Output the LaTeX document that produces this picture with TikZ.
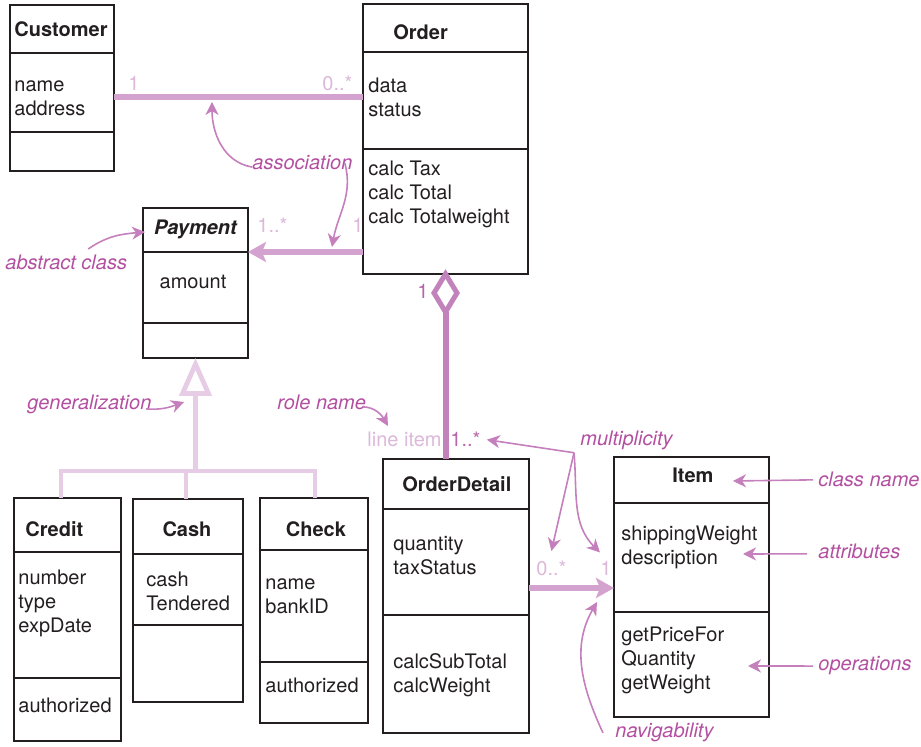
\documentclass[tikz,border=0pt]{standalone}
\usepackage{fontspec}
\setmainfont{TeX Gyre Heros}
\usepackage[usenames]{xcolor}
\usepackage{tikz}
\usetikzlibrary{positioning}
\usetikzlibrary{arrows.meta}
\usetikzlibrary{shapes.geometric}
\definecolor{boxline}{HTML}{231F20}
\definecolor{notetext}{HTML}{B34FA0}
\definecolor{notearrow}{HTML}{C47FBC}
\definecolor{assocline}{HTML}{D3A2CF}
\definecolor{aggline}{HTML}{C282BB}
\definecolor{genline}{HTML}{E6CDE5}
\definecolor{multlight}{HTML}{DCB8D9}
\definecolor{multdark}{HTML}{B866AC}
\tikzset{my_diagram/.style={x=0.5pt,y=0.5pt,font=\fontsize{10}{12}\selectfont}}
\tikzset{my_box/.style={draw=boxline,line width=0.8pt,inner sep=0pt,outer sep=0pt}}
\tikzset{my_title/.style={anchor=base west,inner sep=0pt,text=boxline,font=\fontsize{10}{12}\selectfont\bfseries}}
\tikzset{my_text/.style={anchor=base west,inner sep=0pt,text=boxline}}
\tikzset{my_note/.style={anchor=base west,inner sep=0pt,text=notetext,font=\fontsize{10}{12}\selectfont\itshape}}
\tikzset{my_mult/.style={anchor=base west,inner sep=0pt,text=multlight}}
\tikzset{my_pointer/.style={draw=notearrow,line width=0.8pt,-{Stealth[length=6.5pt,width=6.5pt,inset=2pt]}}}
\tikzset{my_assoc/.style={draw=assocline,line width=3pt}}
\tikzset{my_navigable/.style={my_assoc,line width=3.2pt,-{Stealth[length=9pt,width=10pt,inset=2pt]}}}
\tikzset{my_general/.style={draw=genline,line width=2.4pt}}
\tikzset{my_aggregate/.style={diamond,draw=aggline,fill=white,line width=2.5pt,inner sep=0pt,outer sep=0pt,minimum width=11.5pt,minimum height=19pt}}

\begin{document}
\begin{tikzpicture}[my_diagram]
    \useasboundingbox (0,0) rectangle (921,-747);
    %\draw[help lines,step=50] (0,0) grid (921,-747);

    % classes
    \node[my_box,anchor=north west,minimum width=52pt,minimum height=24pt] (custT) at (10,-5) {};
    \node[my_box,below=0pt of custT,minimum width=52pt,minimum height=39.5pt] (custA) {};
    \node[my_box,below=0pt of custA,minimum width=52pt,minimum height=19.5pt] (custO) {};
    \node[my_title] (custName) at (14,-37) {Customer};
    \node[my_text] (custAttr) at (14,-92) {\parbox[t]{40mm}{name\\address}};

    \node[my_box,anchor=north west,minimum width=82.5pt,minimum height=24pt] (ordT) at (363,-4) {};
    \node[my_box,below=0pt of ordT,minimum width=82.5pt,minimum height=48.5pt] (ordA) {};
    \node[my_box,below=0pt of ordA,minimum width=82.5pt,minimum height=62.5pt] (ordO) {};
    \node[my_title] (ordName) at (393,-40) {Order};
    \node[my_text] (ordAttr) at (368,-93) {\parbox[t]{40mm}{data\\status}};
    \node[my_text] (ordOps) at (368,-176) {\parbox[t]{40mm}{calc Tax\\calc Total\\calc Totalweight}};

    \node[my_box,anchor=north west,minimum width=52.5pt,minimum height=22pt] (payT) at (143,-208) {};
    \node[my_box,below=0pt of payT,minimum width=52.5pt,minimum height=35.5pt] (payA) {};
    \node[my_box,below=0pt of payA,minimum width=52.5pt,minimum height=17.5pt] (payO) {};
    \node[my_title,anchor=base,font=\fontsize{10}{12}\selectfont\bfseries\itshape] (payName) at (195.5,-235) {Payment};
    \node[my_text,anchor=base] (payAttr) at (193,-289) {amount};

    \node[my_box,anchor=north west,minimum width=53.5pt,minimum height=27pt] (credT) at (14,-498) {};
    \node[my_box,below=0pt of credT,minimum width=53.5pt,minimum height=63pt] (credA) {};
    \node[my_box,below=0pt of credA,minimum width=53.5pt,minimum height=31.5pt] (credO) {};
    \node[my_title] (credName) at (25,-537) {Credit};
    \node[my_text] (credAttr) at (18,-585) {\parbox[t]{40mm}{number\\type\\expDate}};
    \node[my_text] (credOps) at (18,-713) {authorized};

    \node[my_box,anchor=north west,minimum width=55pt,minimum height=27.5pt] (cashT) at (133,-499) {};
    \node[my_box,below=0pt of cashT,minimum width=55pt,minimum height=35.5pt] (cashA) {};
    \node[my_box,below=0pt of cashA,minimum width=55pt,minimum height=38.5pt] (cashO) {};
    \node[my_title,anchor=base] (cashName) at (187,-537) {Cash};
    \node[my_text] (cashAttr) at (146,-587) {\parbox[t]{40mm}{cash\\Tendered}};

    \node[my_box,anchor=north west,minimum width=54pt,minimum height=26pt] (chkT) at (260,-498) {};
    \node[my_box,below=0pt of chkT,minimum width=54pt,minimum height=56pt] (chkA) {};
    \node[my_box,below=0pt of chkA,minimum width=54pt,minimum height=30.5pt] (chkO) {};
    \node[my_title,anchor=base] (chkName) at (316,-537) {Check};
    \node[my_text] (chkAttr) at (265,-590) {\parbox[t]{40mm}{name\\bankID}};
    \node[my_text] (chkOps) at (265,-693) {authorized};

    \node[my_box,anchor=north west,minimum width=73pt,minimum height=25pt] (odT) at (383,-459) {};
    \node[my_box,below=0pt of odT,minimum width=73pt,minimum height=53pt] (odA) {};
    \node[my_box,below=0pt of odA,minimum width=73pt,minimum height=59pt] (odO) {};
    \node[my_title] (odName) at (402,-492) {OrderDetail};
    \node[my_text] (odAttr) at (393,-551) {\parbox[t]{40mm}{quantity\\taxStatus}};
    \node[my_text] (odOps) at (393,-669) {\parbox[t]{40mm}{calcSubTotal\\calcWeight}};

    \node[my_box,anchor=north west,minimum width=77.5pt,minimum height=23pt] (itemT) at (614,-457) {};
    \node[my_box,below=0pt of itemT,minimum width=77.5pt,minimum height=54.5pt] (itemA) {};
    \node[my_box,below=0pt of itemA,minimum width=77.5pt,minimum height=52.5pt] (itemO) {};
    \node[my_title] (itemName) at (672,-483) {Item};
    \node[my_text] (itemAttr) at (621,-541) {\parbox[t]{40mm}{shippingWeight\\description}};
    \node[my_text] (itemOps) at (621,-642) {\parbox[t]{40mm}{getPriceFor\\Quantity\\getWeight}};

    % relations
    \draw[my_assoc] ([yshift=-2.25pt]custA.east) -- ([yshift=-2.25pt]custA.east -| ordA.west);
    \draw[my_navigable] (payT.south east -| ordO.west) -- (payT.south east);
    \node[my_aggregate] (aggD) at ([yshift=-9.5pt]ordO.south) {};
    \draw[draw=aggline,line width=3pt] (aggD.south) -- (aggD.south |- odT.north);
    \draw[my_navigable] ([yshift=-13pt]odA.east) -- ([yshift=-13pt]odA.east -| itemA.west);

    \coordinate (genJ) at (195.5,-471);
    \draw[my_general,-{Triangle[open,length=19pt,width=16pt]}] (genJ) -- (payO.south);
    \draw[my_general] ([xshift=-3.25pt]credT.north) |- ([xshift=0.5pt]chkT.north |- genJ) -- ([xshift=0.5pt]chkT.north);
    \draw[my_general] ([xshift=-1pt]cashT.north) -- ([xshift=-1pt]cashT.north |- genJ);

    % multiplicities
    \node[my_mult] (custM) at (128,-91) {1};
    \node[my_mult] (ordM) at (322,-91) {0..*};
    \node[my_mult] (payM) at (257,-233) {1..*};
    \node[my_mult] (ordPayM) at (352,-233) {1};
    \node[my_mult,text=multdark] (aggM) at (417,-299) {1};
    \node[my_mult] (roleName) at (367,-447) {line item};
    \node[my_mult,text=multdark] (odM) at (450,-447) {1..*};
    \node[my_mult] (odItemM) at (536,-576) {0..*};
    \node[my_mult] (itemM) at (600,-576) {1};

    % notes
    \node[my_note] (assocNote) at (252,-170) {association};
    \node[my_note] (absNote) at (5,-270) {abstract class};
    \node[my_note] (genNote) at (27,-410) {generalization};
    \node[my_note] (roleNote) at (277,-410) {role name};
    \node[my_note] (multNote) at (580,-446) {multiplicity};
    \node[my_note] (clsNote) at (818,-487) {class name};
    \node[my_note] (attNote) at (818,-559) {attributes};
    \node[my_note] (opsNote) at (818,-671) {operations};
    \node[my_note] (navNote) at (615,-738) {navigability};

    \coordinate (assocUp) at (212,-102);
    \coordinate (assocDown) at (332,-247);
    \coordinate (absTip) at (145,-232);
    \coordinate (genTip) at (184,-402);
    \coordinate (roleTip) at (388,-426);
    \coordinate (multO) at ([shift={(-3pt,-1pt)}]multNote.south west);
    \coordinate (clsTip) at (733,-481);
    \coordinate (attTip) at (743,-554);
    \coordinate (opsTip) at (748,-666);
    \coordinate (navTip) at (597,-602);

    \draw[my_pointer] ([yshift=-2pt]assocNote.west) to[out=170,in=-90] (assocUp);
    \draw[my_pointer] ([xshift=-4pt]assocNote.east) to[out=-75,in=80] (assocDown);
    \draw[my_pointer] ([shift={(11pt,3pt)}]absNote.north) to[out=35,in=185] (absTip);
    \draw[my_pointer] ([shift={(-3pt,-2pt)}]genNote.east) to[out=-5,in=200] (genTip);
    \draw[my_pointer] ([shift={(-2pt,-2pt)}]roleNote.east) to[out=0,in=120] (roleTip);
    \draw[my_pointer] (multO) -- ([xshift=3pt]odM.east);
    \draw[my_pointer] (multO) -- ([yshift=5pt]odItemM.north);
    \draw[my_pointer] (multO) to[out=-85,in=135] ([shift={(-3pt,4.5pt)}]itemM.north);
    \draw[my_pointer] ([xshift=-2.5pt]clsNote.west) -- (clsTip);
    \draw[my_pointer] ([shift={(-5.5pt,-1pt)}]attNote.west) -- (attTip);
    \draw[my_pointer] ([xshift=-2.5pt]opsNote.west) -- (opsTip);
    \draw[my_pointer] ([xshift=-6pt]navNote.west) to[out=115,in=-120] (navTip);
\end{tikzpicture}
\end{document}
